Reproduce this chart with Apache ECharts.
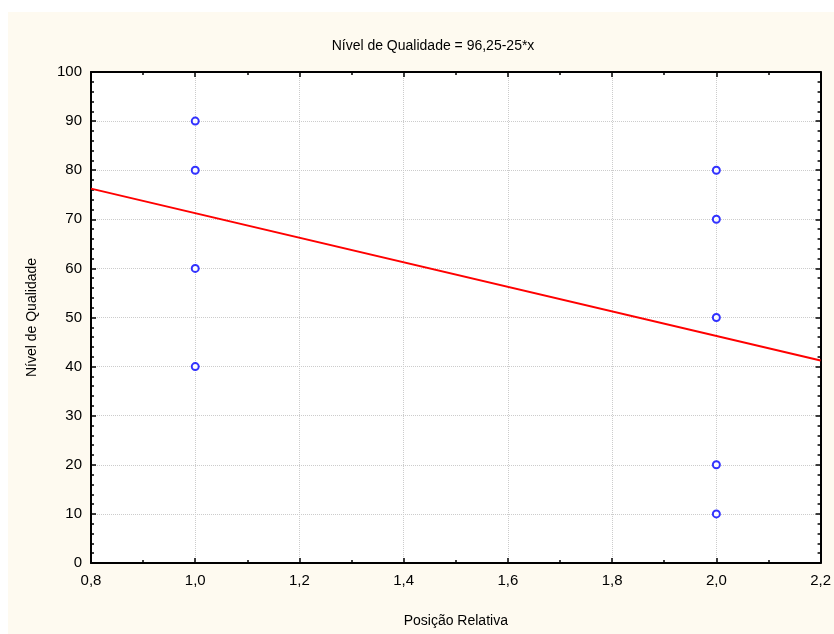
<!DOCTYPE html>
<html>
<head>
<meta charset="utf-8">
<script src="https://cdn.jsdelivr.net/npm/echarts@6/dist/echarts.min.js"></script>
<style>
  html, body { margin: 0; padding: 0; background: #fff; }
  #main { width: 834px; height: 634px; }
</style>
</head>
<body>
<div id="main"></div>
<script>
// pontos observados
var xVals = [1, 1, 1, 1, 2, 2, 2, 2, 2];
var yVals = [90, 80, 60, 40, 80, 70, 50, 20, 10];
// reta ajustada (extremos do eixo)
var lineX = [0.8, 2.2];
var lineY = [76.25, 41.25];

var chart = echarts.init(document.getElementById('main'));

function comma(v) {
  return v.toFixed(1).replace('.', ',');
}

var fontF = '"Liberation Sans", Arial, sans-serif';

var axisCommon = {
  axisLine: { show: true, onZero: false, lineStyle: { color: '#000', width: 2 } },
  axisTick: { show: true, inside: true, length: 5, lineStyle: { color: '#000', width: 1.5 } },
  minorTick: { show: true, length: 3, lineStyle: { color: '#000', width: 1.5 } }
};

var option = {
  backgroundColor: 'transparent',
  animation: false,
  graphic: [{
    type: 'rect', z: -10,
    shape: { x: 8, y: 12, width: 826, height: 622 },
    style: { fill: '#fefaf0' }
  }],
  title: {
    text: 'Nível de Qualidade = 96,25-25*x',
    left: 428, top: 34, textAlign: 'center',
    textStyle: { fontFamily: fontF, fontSize: 14, fontWeight: 'normal', color: '#000' }
  },
  grid: {
    left: 91, right: 11, top: 72, bottom: 71,
    show: true, backgroundColor: '#fff', borderWidth: 0
  },
  xAxis: [
    Object.assign({}, axisCommon, {
      type: 'value', min: 0.8, max: 2.2, interval: 0.2,
      position: 'bottom',
      minorTick: Object.assign({ splitNumber: 2 }, axisCommon.minorTick),
      name: 'Posição Relativa', nameLocation: 'middle', nameGap: 51,
      nameTextStyle: { fontFamily: fontF, fontSize: 14, color: '#000' },
      axisLabel: { formatter: comma, margin: 10, fontFamily: fontF, fontSize: 15, color: '#000' },
      splitLine: { show: true, lineStyle: { color: '#cccccc', type: 'dotted', width: 1 } }
    }),
    Object.assign({}, axisCommon, {
      type: 'value', min: 0.8, max: 2.2, interval: 0.2,
      position: 'top',
      minorTick: Object.assign({ splitNumber: 2 }, axisCommon.minorTick),
      axisLabel: { show: false },
      splitLine: { show: false }
    })
  ],
  yAxis: [
    Object.assign({}, axisCommon, {
      type: 'value', min: 0, max: 100, interval: 10,
      position: 'left',
      minorTick: Object.assign({ splitNumber: 5 }, axisCommon.minorTick),
      name: 'Nível de Qualidade', nameLocation: 'middle', nameGap: 52,
      nameTextStyle: { fontFamily: fontF, fontSize: 14, color: '#000' },
      axisLabel: { margin: 9, fontFamily: fontF, fontSize: 15, color: '#000' },
      splitLine: { show: true, lineStyle: { color: '#cccccc', type: 'dotted', width: 1 } }
    }),
    Object.assign({}, axisCommon, {
      type: 'value', min: 0, max: 100, interval: 10,
      position: 'right',
      minorTick: Object.assign({ splitNumber: 5 }, axisCommon.minorTick),
      axisLabel: { show: false },
      splitLine: { show: false }
    })
  ],
  series: [
    {
      type: 'line',
      data: lineX.map(function (x, i) { return [x, lineY[i]]; }),
      symbol: 'none',
      lineStyle: { color: '#ff0000', width: 2 },
      z: 3
    },
    {
      type: 'scatter',
      data: xVals.map(function (x, i) { return [x, yVals[i]]; }),
      symbol: 'emptyCircle',
      symbolSize: 7,
      itemStyle: { color: '#0000ff', borderWidth: 1 },
      z: 4
    }
  ]
};

chart.setOption(option);
</script>
</body>
</html>
